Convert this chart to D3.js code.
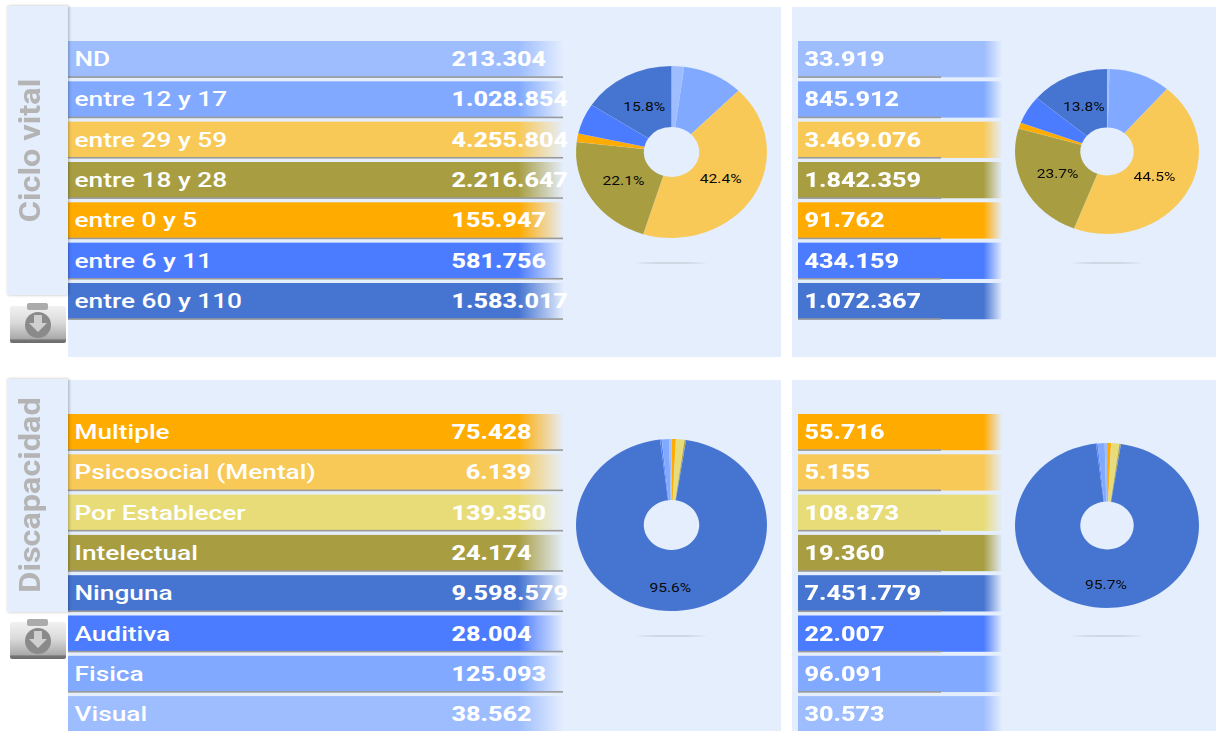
<!DOCTYPE html>
<html><head><meta charset="utf-8">
<script src="https://cdn.jsdelivr.net/npm/d3@7"></script>
<style>
html,body{margin:0;padding:0;background:#fff;overflow:hidden}
svg{display:block;filter:blur(.55px)}
text{font-family:Roboto,sans-serif}
</style></head><body><svg id="c" width="1217" height="731"></svg>
<script>
const cicloCategories=["ND","entre 12 y 17","entre 29 y 59","entre 18 y 28","entre 0 y 5","entre 6 y 11","entre 60 y 110"];
const cicloTotal=[213304,1028854,4255804,2216647,155947,581756,1583017];
const cicloSub=[33919,845912,3469076,1842359,91762,434159,1072367];
const cicloColors=["#9dbdff","#80a9ff","#f8c957","#a89e41","#ffab00","#4b7bff","#4674d1"];
const discCategories=["Multiple","Psicosocial (Mental)","Por Establecer","Intelectual","Ninguna","Auditiva","Fisica","Visual"];
const discTotal=[75428,6139,139350,24174,9598579,28004,125093,38562];
const discSub=[55716,5155,108873,19360,7451779,22007,96091,30573];
const discColors=["#ffab00","#f8c957","#e8dc78","#a89e41","#4674d1","#4b7bff","#80a9ff","#9dbdff"];
const titles=["Ciclo vital","Discapacidad"];

const svg=d3.select("#c"),defs=svg.append("defs");
const fmt=d3.formatLocale({decimal:",",thousands:".",grouping:[3],currency:["",""]}).format(",d");
const pct=d3.format(".1f");
const panel="#e5eefd";

const soft=defs.append("filter").attr("id","soft").attr("x","-20%").attr("y","-400%").attr("width","140%").attr("height","900%");
soft.append("feGaussianBlur").attr("stdDeviation","2 .7");
const sh=defs.append("filter").attr("id","tab").attr("x","-20%").attr("y","-5%").attr("width","140%").attr("height","110%");
sh.append("feDropShadow").attr("dx",1).attr("dy",0).attr("stdDeviation",1.6).attr("flood-color","#000").attr("flood-opacity",.28);
const ig=defs.append("linearGradient").attr("id","ico").attr("x1",0).attr("x2",0).attr("y1",0).attr("y2",1);
[[0,"#f2f2f2"],[.45,"#dadada"],[.88,"#aaaaaa"],[.92,"#757575"],[1,"#6c6c6c"]].forEach(s=>ig.append("stop").attr("offset",s[0]).attr("stop-color",s[1]));

function grad(id,color,from){
  const g=defs.append("linearGradient").attr("id",id);
  g.append("stop").attr("offset",from).attr("stop-color",color);
  g.append("stop").attr("offset",1).attr("stop-color",color).attr("stop-opacity",.02);
}

function block(o){
  const g=svg.append("g");
  g.append("rect").attr("x",68).attr("y",o.top).attr("width",713).attr("height",o.h).attr("fill",panel);
  g.append("rect").attr("x",792).attr("y",o.top).attr("width",424).attr("height",o.h).attr("fill",panel);
  const n=o.cats.length;
  const y=d3.scaleBand().domain(o.cats).range([o.y0,o.y0+(n-.1)*o.step]).paddingInner(.1);
  const cols=[
    {x:68,w:495,line:495,fade:.91,vx:451.5,vals:o.total,labels:true,key:"a",pad:true},
    {x:798,w:204,line:143,fade:.91,vx:804.5,vals:o.sub,labels:false,key:"b",pad:false}
  ];
  cols.forEach(c=>{
    o.cats.forEach((k,i)=>{
      const id=`g${o.id}${c.key}${i}`;
      grad(id,o.colors[i],c.fade);
      const by=y(k),bh=Math.min(y.bandwidth(),731-by);
      g.append("rect").attr("x",c.x).attr("y",by).attr("width",c.w).attr("height",bh).attr("fill",`url(#${id})`);
      g.append("rect").attr("x",c.x).attr("y",by+y.bandwidth()-1).attr("width",c.line).attr("height",1.6).attr("fill","#9a9a9a");
      const cy=by+y.bandwidth()/2+7;
      if(c.labels){
        g.append("text").attr("transform",`translate(74.5,${cy}) scale(1.25,1)`)
          .attr("font-size",21).attr("font-weight",500).attr("fill","#fff").text(k);
      }
      const v=c.vals[i];
      const s=(c.pad&&v<10000?"\u2007":"")+fmt(v);
      g.append("text").attr("transform",`translate(${c.vx},${cy}) scale(1.2,1)`)
        .attr("font-size",21).attr("font-weight",800).attr("fill","#fff").text(s);
    });
  });
  const arc=d3.arc().innerRadius(29).outerRadius(100);
  const pie=d3.pie().sort(null).value(d=>d);
  o.pies.forEach(p=>{
    const total=d3.sum(p.vals);
    const pg=g.append("g").attr("transform",`translate(${p.cx},${p.cy}) scale(${p.rx/100},${p.ry/100})`);
    const arcs=pie(p.vals);
    pg.selectAll("path").data(arcs).join("path").attr("d",arc)
      .attr("fill",(d,i)=>o.colors[i]).attr("stroke",panel).attr("stroke-width",.08);
    const la=d3.arc().innerRadius(p.lr).outerRadius(p.lr);
    arcs.filter(a=>a.value/total>=.12).forEach(a=>{
      const q=la.centroid(a);
      g.append("text").attr("transform",`translate(${p.cx+q[0]*p.rx/100},${p.cy+q[1]*p.ry/100+4.5}) scale(1.25,1)`)
        .attr("text-anchor","middle").attr("font-size",12.5).attr("font-weight",400).attr("fill","#0a0a0a")
        .text(pct(a.value/total*100)+"%");
    });
    g.append("ellipse").attr("cx",p.cx).attr("cy",p.sy).attr("rx",34).attr("ry",.7)
      .attr("fill","#c8d0dc").attr("filter","url(#soft)");
  });
  g.append("rect").attr("x",7).attr("y",o.top-1).attr("width",61).attr("height",o.tabH).attr("fill",panel).attr("filter","url(#tab)");
  g.append("text").attr("transform",`translate(39.5,${o.titleY}) rotate(-90) scale(1.08,1)`)
    .attr("text-anchor","middle").attr("font-size",30).attr("font-weight",700).attr("fill","#b4b4b4").text(o.title);
  const ic=g.append("g").attr("transform",`translate(10,${o.icon})`);
  ic.append("rect").attr("x",0).attr("y",3).attr("width",56).attr("height",37).attr("rx",2).attr("fill","url(#ico)");
  ic.append("rect").attr("x",17).attr("y",0).attr("width",21).attr("height",7).attr("rx",2).attr("fill","#ababab");
  ic.append("circle").attr("cx",28).attr("cy",22).attr("r",13).attr("fill","#8a8a8a");
  ic.append("path").attr("d","M24 12h8v8h5l-9 9-9-9h5z").attr("fill","#cfcfcf");
}

block({id:"t",top:7,h:350,tabH:289,y0:41,step:40.33,cats:cicloCategories,total:cicloTotal,sub:cicloSub,colors:cicloColors,
  title:titles[0],titleY:150.5,icon:303,
  pies:[{vals:cicloTotal,cx:671.5,cy:152,rx:95.5,ry:86,lr:60,sy:263},{vals:cicloSub,cx:1107,cy:151.5,rx:92,ry:82.5,lr:60,sy:263}]});
block({id:"b",top:380,h:351,tabH:233,y0:414,step:40.3,cats:discCategories,total:discTotal,sub:discSub,colors:discColors,
  title:titles[1],titleY:495,icon:619,
  pies:[{vals:discTotal,cx:671.5,cy:525,rx:95.5,ry:86,lr:73,sy:636},{vals:discSub,cx:1107,cy:525.5,rx:92,ry:82.5,lr:72,sy:636}]});
</script></body></html>
